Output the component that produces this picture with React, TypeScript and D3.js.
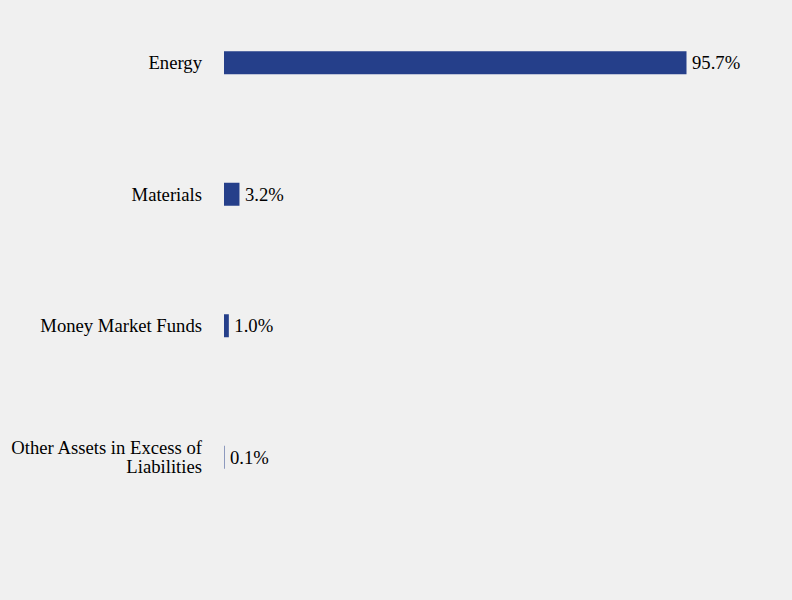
import React from "react";
import * as d3 from "d3";

const categories = ["Energy", "Materials", "Money Market Funds", "Other Assets in Excess of Liabilities"];
const labelLines = [["Energy"], ["Materials"], ["Money Market Funds"], ["Other Assets in Excess of", "Liabilities"]];
const values = [95.7, 3.2, 1.0, 0.1];
const valueLabels = ["95.7%", "3.2%", "1.0%", "0.1%"];

export default function App() {
  const W = 792, H = 600;
  const x = d3.scaleLinear().domain([0, 95.7]).range([224, 686.5]);
  const y = d3.scalePoint<string>().domain(categories).range([-3, 523]).padding(0.5);
  const barH = 23;
  const fontStyle = { fontFamily: "'Times New Roman', 'Liberation Serif', serif" };
  const fs = 18.667;
  return (
    <svg width={W} height={H} style={{ position: "absolute", left: 0, top: 0, background: "#f0f0f0" }}>
      <rect x={0} y={0} width={W} height={H} fill="#f0f0f0" />
      {categories.map((c, i) => {
        const cy = y(c)!;
        const lines = labelLines[i];
        const lh = 19;
        return (
          <g key={c}>
            <rect x={x(0)} y={cy - barH / 2} width={Math.max(x(values[i]) - x(0), 0)} height={barH} fill="#253f8a" />
            <text x={202} y={cy} style={fontStyle} fontSize={fs} textAnchor="end" fill="#000">
              {lines.map((l, j) => (
                <tspan key={j} x={202} y={cy + (j - (lines.length - 1) / 2) * lh} dy="0.35em">{l}</tspan>
              ))}
            </text>
            <text x={x(values[i]) + 5.5} y={cy} dy="0.35em" style={fontStyle} fontSize={fs} fill="#000">{valueLabels[i]}</text>
          </g>
        );
      })}
    </svg>
  );
}
